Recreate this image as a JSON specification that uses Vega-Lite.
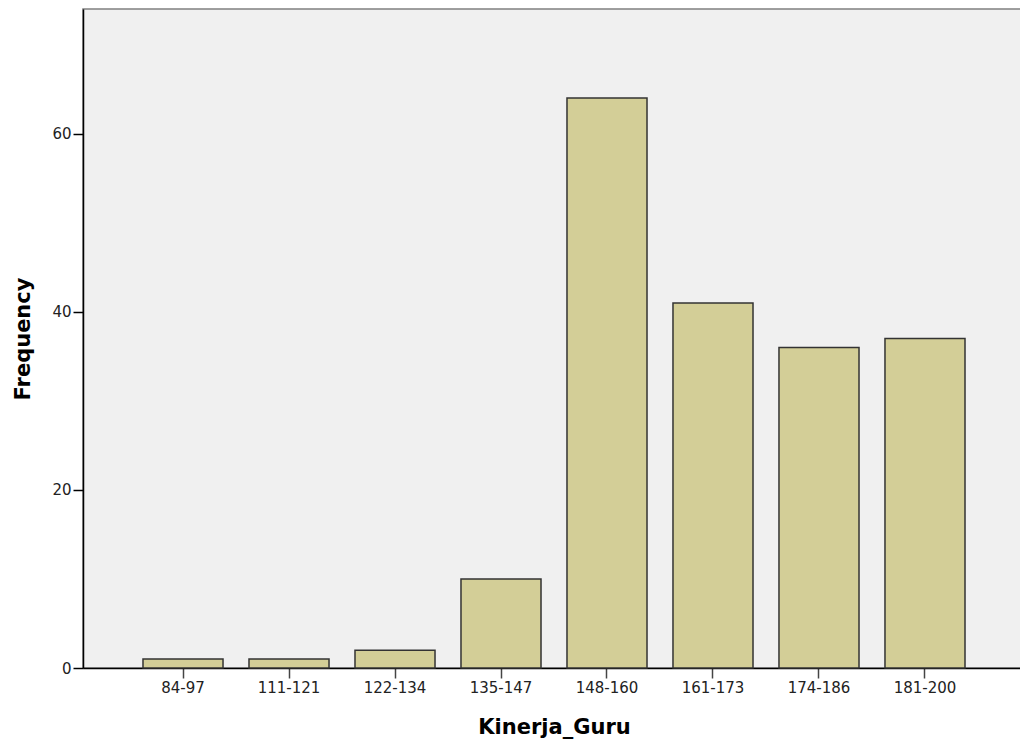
{
  "$schema": "https://vega.github.io/schema/vega-lite/v6.json",
  "width": 942,
  "height": 659,
  "autosize": "none",
  "padding": {"left": 83, "top": 9, "right": 0, "bottom": 74},
  "background": "white",
  "config": {
    "view": {"fill": "#f0f0f0", "stroke": "#808080", "strokeWidth": 1.5},
    "font": "DejaVu Sans"
  },
  "data": {
    "values": [
      {"range": "84-97", "freq": 1},
      {"range": "111-121", "freq": 1},
      {"range": "122-134", "freq": 2},
      {"range": "135-147", "freq": 10},
      {"range": "148-160", "freq": 64},
      {"range": "161-173", "freq": 41},
      {"range": "174-186", "freq": 36},
      {"range": "181-200", "freq": 37}
    ]
  },
  "mark": {"type": "bar", "fill": "#d3ce97", "stroke": "#333333", "strokeWidth": 1.5},
  "encoding": {
    "x": {
      "field": "range",
      "type": "nominal",
      "sort": null,
      "scale": {"paddingInner": 0.245, "paddingOuter": 0.566},
      "axis": {
        "title": "Kinerja_Guru",
        "titleFont": "DejaVu Sans",
        "titleFontSize": 21,
        "titleFontWeight": "bold",
        "titleColor": "#000",
        "titlePadding": 21,
        "labelAngle": 0,
        "labelFont": "DejaVu Sans",
        "labelFontSize": 15,
        "labelColor": "#222",
        "labelPadding": 2,
        "tickSize": 10,
        "tickColor": "#444",
        "tickWidth": 1.5,
        "domainColor": "#000",
        "domainWidth": 1.5
      }
    },
    "y": {
      "field": "freq",
      "type": "quantitative",
      "scale": {"domain": [0, 74], "nice": false},
      "axis": {
        "title": "Frequency",
        "titleFont": "DejaVu Sans",
        "titleFontSize": 21,
        "titleFontWeight": "bold",
        "titleColor": "#000",
        "titlePadding": 18,
        "values": [0, 20, 40, 60],
        "grid": false,
        "labelFont": "DejaVu Sans",
        "labelFontSize": 15,
        "labelColor": "#222",
        "labelPadding": 2,
        "tickSize": 10,
        "tickColor": "#000",
        "tickWidth": 1.5,
        "domainColor": "#000",
        "domainWidth": 1.5
      }
    }
  }
}
